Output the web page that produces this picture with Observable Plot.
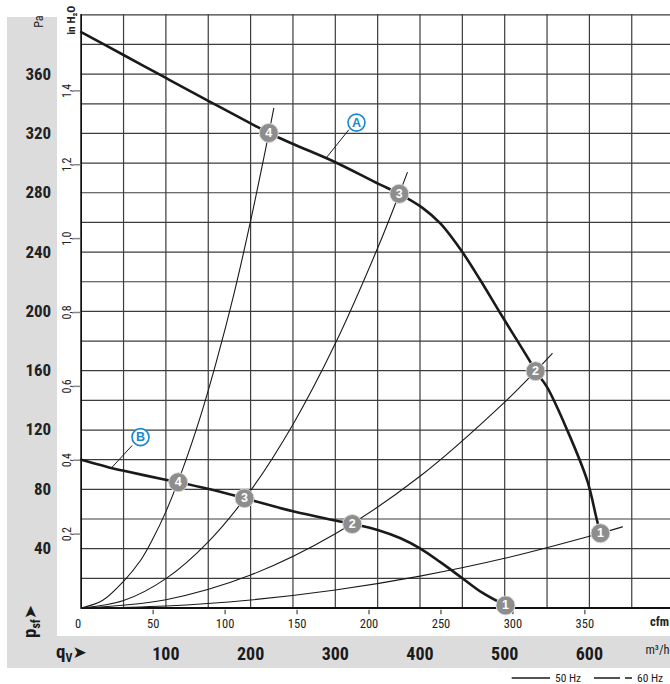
<!DOCTYPE html>
<html><head><meta charset="utf-8">
<script src="https://cdn.jsdelivr.net/npm/d3@7"></script>
<script src="https://cdn.jsdelivr.net/npm/@observablehq/plot@0.6"></script>
<style>
body{margin:0;background:#fff;}
#wrap{position:relative;width:670px;height:684px;overflow:hidden;}
#wrap svg{display:block;}
</style></head><body><div id="wrap"></div>
<script>
// ---- data (x in m³/h, y in Pa) ----
const gridM3h = [0,50,100,150,200,250,300,350,400,450,500,550,600,650,700];
const gridPa = [20,40,60,80,100,120,140,160,180,200,220,240,260,280,300,320,340,360,380,400];
const paTicks = [40,80,120,160,200,240,280,320,360];
const inH2OTicks = [0.2,0.4,0.6,0.8,1.0,1.2,1.4];
const cfmTicks = [0,50,100,150,200,250,300,350];
const m3hTicks = [100,200,300,400,500,600];

const fanA_q = [0,50,100,150,200,221.5,251,300,351,375.5,402.6,424,450,471.5,495,530.5,536.4,550,574,597.4,609,613];
const fanA_p = [388.3,372.9,357.4,342,326.8,320.3,312.7,300.6,286,279.3,270,259.3,240,220.8,198.6,165.7,159.7,148.9,119.7,86,59,50.4];
const fanB_q = [0,36.6,50.3,99.5,114.5,150.7,192.8,250,300,320,350,377,400,424,450,473,501];
const fanB_p = [100,94.3,92.5,86.5,84.8,80.2,74,65.2,59.0,56.6,52.6,47,40.2,30.9,20.1,10.5,1.7];

const sys4_q = [0,25,50,70,84,100,120,141,160,180,200,221.5,227.4];
const sys4_p = [0,5,18,32,46,65,94,129.6,167,211,261,320,337];
const sys3_q = [0,50,100,150,200,250,300,350,375.5,385];
const sys3_p = [0,5,19.8,44.6,79.2,123.8,178.3,242.7,279.3,293.6];
const sys2_q = [0,100,200,300,400,500,536.4,556];
const sys2_p = [0,5.6,22.2,50,88.8,138.8,159.7,171.6];
const sys1_q = [0,100,200,300,400,500,613,639];
const sys1_p = [0,1.3,5.4,12.1,21.5,33.5,50.4,54.7];

const pointsA = [{n:"4",q:221.5,p:320.3},{n:"3",q:375.5,p:279.3},{n:"2",q:536.4,p:159.7},{n:"1",q:613,p:50.4}];
const pointsB = [{n:"4",q:114.5,p:84.8},{n:"3",q:192.8,p:74},{n:"2",q:320,p:56.6},{n:"1",q:501,p:1.7}];
const curveLabels = [{t:"A",q:325,p:327.3},{t:"B",q:70,p:115.2}];
const leaders = [{q1:288.4,p1:302.9,q2:316,p2:322.5},{q1:36.6,p1:95,q2:60.2,p2:109.6}];

const INH2O_PA = 249.089;
const CFM_M3H = 1.699;

const zip = (qs, ps) => qs.map((q,i)=>({q, p: ps[i]}));
const fanA = zip(fanA_q, fanA_p), fanB = zip(fanB_q, fanB_p);
const systems = [zip(sys4_q,sys4_p), zip(sys3_q,sys3_p), zip(sys2_q,sys2_p), zip(sys1_q,sys1_p)];

const narrow = '"Liberation Sans Narrow","Arial Narrow","Roboto Condensed",sans-serif';
const gridColor = "#3c3c3c";

const chart = Plot.plot({
  width: 670, height: 668,
  marginLeft: 80.7, marginTop: 14.3, marginBottom: 60.5, marginRight: 0,
  x: {domain:[0,700], range:[80.7,673.6], axis:null},
  y: {domain:[0,400], range:[607.5,14.3], axis:null},
  style: {fontFamily: narrow, color:"#1a1a1a"},
  marks: [
    Plot.ruleX(gridM3h, {stroke: gridColor, strokeWidth: 1.2, y1: 0, y2: 400}),
    Plot.ruleY(gridPa, {stroke: gridColor, strokeWidth: 1.2}),
    Plot.ruleY([0], {stroke: "#111", strokeWidth: 1.8}),
    Plot.ruleX([0], {stroke: "#111", strokeWidth: 1.6, y1: 0, y2: 400}),
    // Pa axis
    Plot.axisY(paTicks, {tickSize: 0, tickPadding: 30, fontSize: 17, fontWeight: "bold", label: null, fill:"#222"}),
    // in H2O axis
    Plot.ruleY(inH2OTicks, {y: d => d*INH2O_PA, x1: -9, x2: -0.5, stroke: "#888", strokeWidth: 1.5}),
    Plot.text(inH2OTicks, {y: d => d*INH2O_PA, x: 0, dx: -14, rotate: -90, text: d => d.toFixed(1).replace(".", ","), fontSize: 12, fill:"#222"}),
    Plot.text(["Pa"], {frameAnchor: "top-left", dx: -47, dy: 13, rotate: -90, fontSize: 12, fill:"#222"}),
    Plot.text(["in H₂O"], {frameAnchor: "top-left", dx: -14, dy: 20, rotate: -90, fontSize: 11.5, fontWeight:"bold", fill:"#222"}),
    // cfm axis
    Plot.ruleX(cfmTicks.filter(d => d > 0), {x: d => d*CFM_M3H, y1: -1.6, y2: -4.6, stroke: "#444", strokeWidth: 1.2}),
    Plot.text(cfmTicks.filter(d => d > 0), {x: d => d*CFM_M3H, y: 0, dy: 16, text: d => String(d), fontSize: 12.5, fill:"#222"}),
    Plot.text(cfmTicks.filter(d => d === 0), {x: d => d*CFM_M3H, y: 0, dy: 16, dx: -3, text: d => String(d), fontSize: 12.5, fill:"#222"}),
    Plot.text(["cfm"], {frameAnchor: "bottom-right", dx: -11, dy: 17.5, textAnchor:"middle", fontSize: 12.5, fontWeight:"bold", fill:"#222"}),
    // m3/h axis
    Plot.text(m3hTicks, {x: d => d, y: 0, dy: 46, text: d => String(d), fontSize: 18, fontWeight: "bold", fill:"#1a1a1a"}),
    Plot.text(["m³/h"], {frameAnchor: "bottom-right", dx: -13, dy: 45.5, textAnchor:"middle", fontSize: 12.5, fill:"#222"}),
    // system curves
    ...systems.map(s => Plot.line(s, {x: "q", y: "p", curve: "catmull-rom", stroke: "#1a1a1a", strokeWidth: 1.1})),
    // fan curves
    Plot.line(fanA, {x: "q", y: "p", curve: "catmull-rom", stroke: "#1a1a1a", strokeWidth: 2.6}),
    Plot.line(fanB, {x: "q", y: "p", curve: "catmull-rom", stroke: "#1a1a1a", strokeWidth: 2.6}),
    // leaders + labels
    Plot.link(leaders, {x1: "q1", y1: "p1", x2: "q2", y2: "p2", stroke: "#1a1a1a", strokeWidth: 1}),
    Plot.dot(curveLabels, {x: "q", y: "p", r: 8.5, fill: "white", stroke: "#1b87cf", strokeWidth: 1.6}),
    Plot.text(curveLabels, {x: "q", y: "p", text: "t", fill: "#1b87cf", fontWeight: "bold", fontSize: 12.5, fontFamily: '"Liberation Sans",sans-serif'}),
    // operating points
    Plot.dot([...pointsA, ...pointsB], {x: "q", y: "p", r: 9.5, fill: "#8d8d8d", stroke: "#d8d8d8", strokeWidth: 1}),
    Plot.text([...pointsA, ...pointsB], {x: "q", y: "p", text: "n", fill: "white", fontWeight: "bold", fontSize: 12.5, fontFamily: '"Liberation Sans",sans-serif'})
  ]
});

const svg = d3.select(chart);
// gray bands (decoration)
svg.insert("rect", ":first-child").attr("x", 7).attr("y", 636).attr("width", 663).attr("height", 32).attr("fill", "#dcdcdd");
svg.insert("rect", ":first-child").attr("x", 7).attr("y", 17).attr("width", 50).attr("height", 620).attr("fill", "#dcdcdd");

// q_V label
const qv = svg.append("text").attr("x", 56).attr("y", 658).attr("text-anchor", "start").attr("font-family", narrow).attr("font-weight", "bold").attr("fill", "#1a1a1a");
qv.append("tspan").attr("font-size", 19).text("q");
qv.append("tspan").attr("font-size", 12).attr("dy", 4).text("V");
qv.append("tspan").attr("font-size", 17).attr("dy", -4).attr("font-family", '"DejaVu Sans",sans-serif').text("➤");

// p_sf label
const ps = svg.append("text").attr("transform", "translate(36,638) rotate(-90)").attr("text-anchor", "start").attr("font-family", narrow).attr("font-weight", "bold").attr("fill", "#1a1a1a");
ps.append("tspan").attr("font-size", 19).text("p");
ps.append("tspan").attr("font-size", 12).attr("dy", 4).text("sf");
ps.append("tspan").attr("font-size", 17).attr("dy", -4).attr("font-family", '"DejaVu Sans",sans-serif').text("➤");

document.getElementById("wrap").appendChild(chart);

// legend below the chart
const leg = d3.select("#wrap").append("svg").attr("width", 670).attr("height", 16).style("display","block");
leg.append("line").attr("x1", 511.7).attr("x2", 550).attr("y1", 10).attr("y2", 10).attr("stroke", "#1a1a1a").attr("stroke-width", 1.5);
leg.append("text").attr("x", 555).attr("y", 13.5).attr("font-family", narrow).attr("font-size", 11.5).attr("fill", "#222").text("50 Hz");
leg.append("line").attr("x1", 594).attr("x2", 620).attr("y1", 10).attr("y2", 10).attr("stroke", "#1a1a1a").attr("stroke-width", 1.5);
leg.append("line").attr("x1", 625).attr("x2", 632).attr("y1", 10).attr("y2", 10).attr("stroke", "#1a1a1a").attr("stroke-width", 1.5);
leg.append("text").attr("x", 637).attr("y", 13.5).attr("font-family", narrow).attr("font-size", 11.5).attr("fill", "#222").text("60 Hz");
</script></body></html>
